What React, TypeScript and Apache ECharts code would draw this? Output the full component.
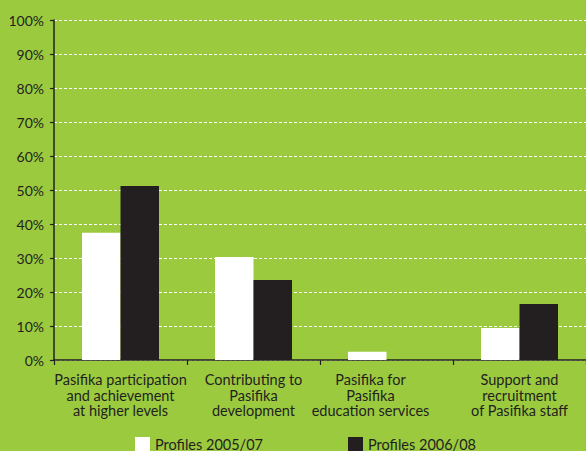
import React, { useEffect, useRef } from "react";
import * as echarts from "echarts";

const categories = [
  "Pasifika participation\nand achievement\nat higher levels",
  "Contributing to\nPasifika\ndevelopment",
  "Pasifika for\nPasifika\neducation services",
  "Support and\nrecruitment\nof Pasifika staff",
];
const series2005 = [37.4, 30.3, 2.4, 9.4];
const series2006 = [51.2, 23.5, 0, 16.5];
const seriesNames = ["Profiles 2005/07", "Profiles 2006/08"];

export default function App() {
  const ref = useRef<HTMLDivElement>(null);
  useEffect(() => {
    if (!ref.current) return;
    const chart = echarts.init(ref.current, null, { renderer: "svg" });
    const font = "Lato";
    const textColor = "#231f20";
    const fs = 14.5;
    chart.setOption({
      animation: false,
      backgroundColor: "#9bca3e",
      textStyle: { fontFamily: font },
      grid: { left: 54, right: 0, top: 20, bottom: 91, containLabel: false },
      legend: {
        left: 135,
        top: 437,
        padding: 0,
        itemWidth: 15,
        itemHeight: 15,
        itemGap: 85,
        icon: "rect",
        data: seriesNames,
        textStyle: { fontFamily: font, fontSize: fs, color: textColor },
      },
      xAxis: {
        type: "category",
        data: categories,
        axisLine: { lineStyle: { color: textColor, width: 1.5 } },
        axisTick: { show: true, length: 5, lineStyle: { color: textColor, width: 1.2 } },
        axisLabel: {
          interval: 0,
          margin: 12,
          fontFamily: font,
          fontSize: fs,
          color: textColor,
          lineHeight: 15.5,
          formatter: (v: string, i: number) => {
            if (i === 2) {
              return v.split("\n").map((l) => `{o|${l}}`).join("\n");
            }
            return v;
          },
          rich: {
            o: { fontFamily: font, fontSize: fs, color: textColor, lineHeight: 15.5, padding: [0, 32, 0, 0] },
          },
        },
      },
      yAxis: {
        type: "value",
        min: 0,
        max: 100,
        interval: 10,
        axisLine: { show: true, lineStyle: { color: textColor, width: 1.5 } },
        axisTick: { show: true, length: 4, lineStyle: { color: textColor, width: 1.2 } },
        axisLabel: {
          formatter: "{value}%",
          fontFamily: font,
          fontSize: 14,
          color: textColor,
          margin: 10,
        },
        splitLine: {
          show: true,
          lineStyle: { color: "#ffffff", type: [3, 2], width: 1.2 },
        },
      },
      series: [
        {
          name: seriesNames[0],
          type: "bar",
          data: series2005,
          barWidth: 38.5,
          barGap: "0%",
          itemStyle: { color: "#ffffff" },
        },
        {
          name: seriesNames[1],
          type: "bar",
          data: series2006,
          barWidth: 38.5,
          barGap: "0%",
          itemStyle: { color: "#231f20" },
        },
      ],
    });
    return () => chart.dispose();
  }, []);
  return <div ref={ref} style={{ width: 586, height: 451, position: "absolute", left: 0, top: 0 }} />;
}
